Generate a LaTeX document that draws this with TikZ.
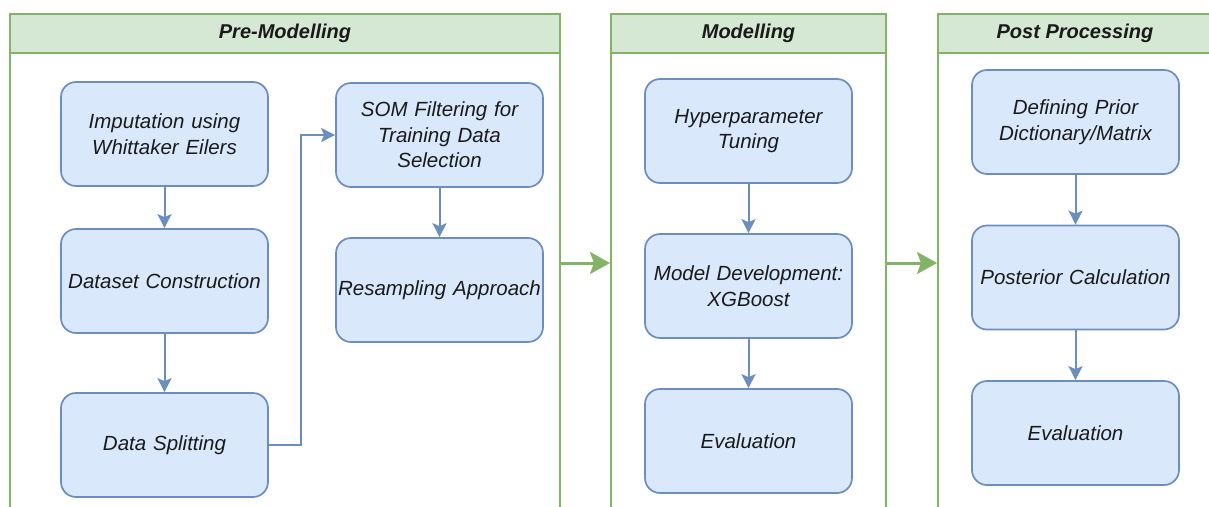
\documentclass[tikz,border=0pt]{standalone}
\usepackage{fontspec}
\setmainfont{Liberation Sans}
\usetikzlibrary{arrows.meta}
\definecolor{lanefill}{HTML}{D5E8D4}
\definecolor{lanedraw}{HTML}{82B366}
\definecolor{boxfill}{HTML}{DAE8FC}
\definecolor{boxdraw}{HTML}{6C8EBF}
\definecolor{txt}{HTML}{1A1A1A}
\tikzset{
  lanebox/.style={draw=lanedraw, line width=1.6pt},
  lanehead/.style={draw=lanedraw, fill=lanefill, line width=1.6pt},
  lanetitle/.style={font=\fontsize{20}{24}\selectfont\bfseries\itshape, text=txt},
  procbox/.style={draw=boxdraw, fill=boxfill, line width=1.7pt, rounded corners=15pt,
    minimum width=207pt, minimum height=104pt, align=center, text width=204pt,
    font=\fontsize{20.5}{25.5}\selectfont\itshape, text=txt, inner sep=0pt},
  flow/.style={draw=boxdraw, line width=2pt, -{Stealth[length=14pt,width=14pt,inset=3pt]}},
  bigflow/.style={draw=lanedraw, line width=3pt, -{Stealth[length=20pt,width=22pt,inset=4pt]}}
}
\begin{document}
\begin{tikzpicture}[x=1pt,y=-1pt]
\useasboundingbox (0,0) rectangle (1209,506);
\fill[white] (0,0) rectangle (1209,506);
\clip (0,0) rectangle (1209,506);
% lanes
\draw[lanebox] (10,14) rectangle (560,530);
\draw[lanehead] (10,14) rectangle (560,53);
\node[lanetitle] (t1) at (285,33.5) {Pre-Modelling};
\draw[lanebox] (611,14) rectangle (886,530);
\draw[lanehead] (611,14) rectangle (886,53);
\node[lanetitle] (t2) at (748.5,33.5) {Modelling};
\draw[lanebox] (938,14) rectangle (1230,530);
\draw[lanehead] (938,14) rectangle (1230,53);
\node[lanetitle] (t3) at (1075,33.5) {Post Processing};
\coordinate (l1r) at (560,263);
\coordinate (l2l) at (610,263);
\coordinate (l2r) at (886,263);
\coordinate (l3l) at (937,263);
% pre-modelling
\node[procbox] (imp) at (164.5,134) {Imputation using\\Whittaker Eilers};
\node[procbox] (ds) at (164.5,281) {Dataset Construction};
\node[procbox] (split) at (164.5,445) {Data Splitting};
\node[procbox] (som) at (439.5,135) {SOM Filtering for\\Training Data\\Selection};
\node[procbox] (res) at (439.5,290) {Resampling Approach};
% modelling
\node[procbox] (hyp) at (748.5,131) {Hyperparameter\\Tuning};
\node[procbox] (mdev) at (748.5,286) {Model Development:\\XGBoost};
\node[procbox] (ev1) at (748.5,441) {Evaluation};
% post processing
\node[procbox] (prior) at (1075.5,122) {Defining Prior\\Dictionary/Matrix};
\node[procbox] (post) at (1075.5,277.5) {Posterior Calculation};
\node[procbox] (ev2) at (1075.5,433) {Evaluation};
% connectors
\draw[flow] (imp) -- (ds);
\draw[flow] (ds) -- (split);
\draw[flow] (split.east) -- (301,445) -- (301,135) -- (som.west);
\draw[flow] (som) -- (res);
\draw[flow] (hyp) -- (mdev);
\draw[flow] (mdev) -- (ev1);
\draw[flow] (prior) -- (post);
\draw[flow] (post) -- (ev2);
\draw[bigflow] (l1r) -- (l2l);
\draw[bigflow] (l2r) -- (l3l);
\end{tikzpicture}
\end{document}
